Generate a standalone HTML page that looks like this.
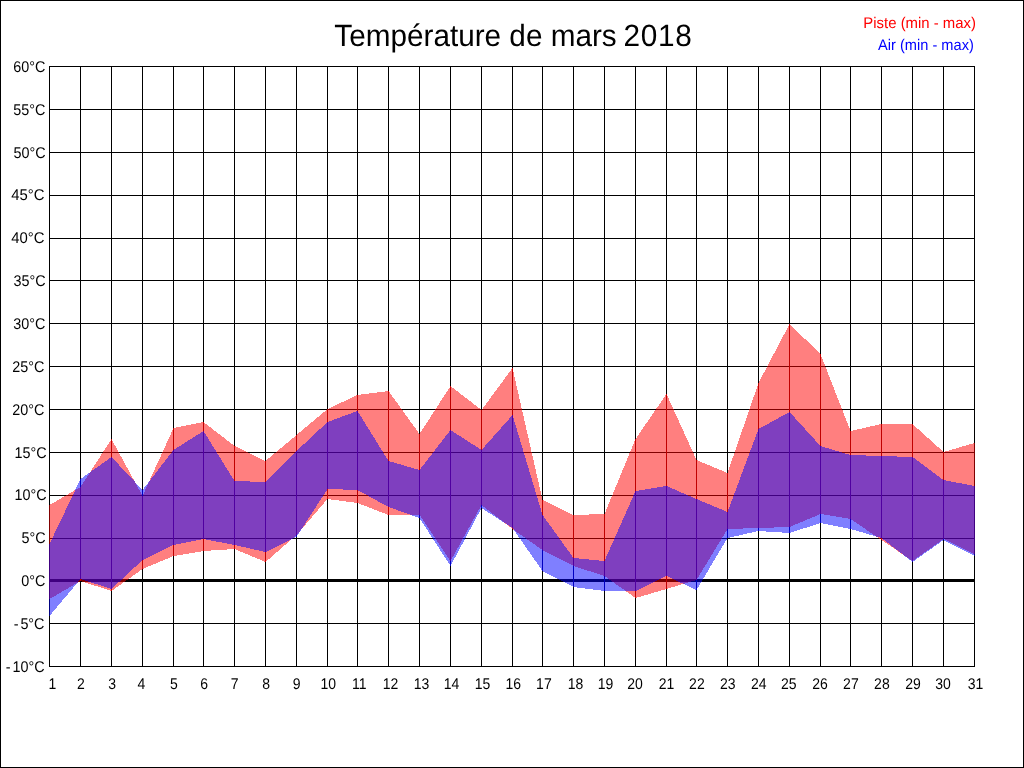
<!DOCTYPE html>
<html><head><meta charset="utf-8"><title>Température de mars 2018</title>
<style>
html,body{margin:0;padding:0;background:#fff;}
body{width:1024px;height:768px;overflow:hidden;position:relative;font-family:"Liberation Sans",sans-serif;}
svg{position:absolute;left:0;top:0;display:block;}
text{font-family:"Liberation Sans",sans-serif;}
.r{fill:#f00;fill-opacity:.5}
.b{fill:#00f;fill-opacity:.5}
</style></head><body>
<svg width="1024" height="768" viewBox="0 0 1024 768">
<rect x="0" y="0" width="1024" height="768" fill="#fff"/>
<rect x="0.5" y="0.5" width="1023" height="767" fill="none" stroke="#000" stroke-width="1" shape-rendering="crispEdges"/>

<g fill="#000" shape-rendering="crispEdges">
<rect x="49" y="66" width="1" height="601"/>
<rect x="80" y="66" width="1" height="601"/>
<rect x="111" y="66" width="1" height="601"/>
<rect x="142" y="66" width="1" height="601"/>
<rect x="173" y="66" width="1" height="601"/>
<rect x="203" y="66" width="1" height="601"/>
<rect x="234" y="66" width="1" height="601"/>
<rect x="265" y="66" width="1" height="601"/>
<rect x="296" y="66" width="1" height="601"/>
<rect x="327" y="66" width="1" height="601"/>
<rect x="357" y="66" width="1" height="601"/>
<rect x="388" y="66" width="1" height="601"/>
<rect x="419" y="66" width="1" height="601"/>
<rect x="450" y="66" width="1" height="601"/>
<rect x="481" y="66" width="1" height="601"/>
<rect x="512" y="66" width="1" height="601"/>
<rect x="542" y="66" width="1" height="601"/>
<rect x="573" y="66" width="1" height="601"/>
<rect x="604" y="66" width="1" height="601"/>
<rect x="635" y="66" width="1" height="601"/>
<rect x="666" y="66" width="1" height="601"/>
<rect x="696" y="66" width="1" height="601"/>
<rect x="727" y="66" width="1" height="601"/>
<rect x="758" y="66" width="1" height="601"/>
<rect x="789" y="66" width="1" height="601"/>
<rect x="820" y="66" width="1" height="601"/>
<rect x="850" y="66" width="1" height="601"/>
<rect x="881" y="66" width="1" height="601"/>
<rect x="912" y="66" width="1" height="601"/>
<rect x="943" y="66" width="1" height="601"/>
<rect x="974" y="66" width="1" height="601"/>
<rect x="49" y="66" width="926" height="1"/>
<rect x="49" y="109" width="926" height="1"/>
<rect x="49" y="152" width="926" height="1"/>
<rect x="49" y="195" width="926" height="1"/>
<rect x="49" y="238" width="926" height="1"/>
<rect x="49" y="280" width="926" height="1"/>
<rect x="49" y="323" width="926" height="1"/>
<rect x="49" y="366" width="926" height="1"/>
<rect x="49" y="409" width="926" height="1"/>
<rect x="49" y="452" width="926" height="1"/>
<rect x="49" y="495" width="926" height="1"/>
<rect x="49" y="538" width="926" height="1"/>
<rect x="49" y="580" width="926" height="1"/>
<rect x="49" y="623" width="926" height="1"/>
<rect x="49" y="666" width="926" height="1"/>
<rect x="49" y="579" width="926" height="3"/>
</g>
<g shape-rendering="crispEdges">
<polygon class="r" points="49,505 49.5,505 80.5,487 81,487 81,581 80.5,581 49.5,599 49,599"/>
<polygon class="b" points="49,544 49.5,544 80.5,479 81,479 81,579 80.5,579 49.5,616 49,616"/>
<polygon class="r" points="80,487 80.5,487 111.5,439 112,439 112,591 111.5,591 80.5,581 80,581"/>
<polygon class="b" points="80,479 80.5,479 111.5,457 112,457 112,589 111.5,589 80.5,579 80,579"/>
<polygon class="r" points="111,439 111.5,439 142.5,496 143,496 143,569 142.5,569 111.5,591 111,591"/>
<polygon class="b" points="111,457 111.5,457 142.5,490 143,490 143,560 142.5,560 111.5,589 111,589"/>
<polygon class="r" points="142,496 142.5,496 173.5,428 174,428 174,556 173.5,556 142.5,569 142,569"/>
<polygon class="b" points="142,490 142.5,490 173.5,450 174,450 174,545 173.5,545 142.5,560 142,560"/>
<polygon class="r" points="173,428 173.5,428 203.5,422 204,422 204,551 203.5,551 173.5,556 173,556"/>
<polygon class="b" points="173,450 173.5,450 203.5,431 204,431 204,539 203.5,539 173.5,545 173,545"/>
<polygon class="r" points="203,422 203.5,422 234.5,446 235,446 235,549 234.5,549 203.5,551 203,551"/>
<polygon class="b" points="203,431 203.5,431 234.5,481 235,481 235,545 234.5,545 203.5,539 203,539"/>
<polygon class="r" points="234,446 234.5,446 265.5,461 266,461 266,562 265.5,562 234.5,549 234,549"/>
<polygon class="b" points="234,481 234.5,481 265.5,482 266,482 266,552 265.5,552 234.5,545 234,545"/>
<polygon class="r" points="265,461 265.5,461 296.5,435 297,435 297,535 296.5,535 265.5,562 265,562"/>
<polygon class="b" points="265,482 265.5,482 296.5,451 297,451 297,537 296.5,537 265.5,552 265,552"/>
<polygon class="r" points="296,435 296.5,435 327.5,409 328,409 328,499 327.5,499 296.5,535 296,535"/>
<polygon class="b" points="296,451 296.5,451 327.5,422 328,422 328,489 327.5,489 296.5,537 296,537"/>
<polygon class="r" points="327,409 327.5,409 357.5,395 358,395 358,503 357.5,503 327.5,499 327,499"/>
<polygon class="b" points="327,422 327.5,422 357.5,411 358,411 358,490 357.5,490 327.5,489 327,489"/>
<polygon class="r" points="357,395 357.5,395 388.5,391 389,391 389,515 388.5,515 357.5,503 357,503"/>
<polygon class="b" points="357,411 357.5,411 388.5,461 389,461 389,507 388.5,507 357.5,490 357,490"/>
<polygon class="r" points="388,391 388.5,391 419.5,434 420,434 420,515 419.5,515 388.5,515 388,515"/>
<polygon class="b" points="388,461 388.5,461 419.5,470 420,470 420,518 419.5,518 388.5,507 388,507"/>
<polygon class="r" points="419,434 419.5,434 450.5,386 451,386 451,561 450.5,561 419.5,515 419,515"/>
<polygon class="b" points="419,470 419.5,470 450.5,430 451,430 451,566 450.5,566 419.5,518 419,518"/>
<polygon class="r" points="450,386 450.5,386 481.5,410 482,410 482,505 481.5,505 450.5,561 450,561"/>
<polygon class="b" points="450,430 450.5,430 481.5,450 482,450 482,508 481.5,508 450.5,566 450,566"/>
<polygon class="r" points="481,410 481.5,410 512.5,368 513,368 513,529 512.5,529 481.5,505 481,505"/>
<polygon class="b" points="481,450 481.5,450 512.5,415 513,415 513,528 512.5,528 481.5,508 481,508"/>
<polygon class="r" points="512,368 512.5,368 542.5,500 543,500 543,550 542.5,550 512.5,529 512,529"/>
<polygon class="b" points="512,415 512.5,415 542.5,515 543,515 543,571 542.5,571 512.5,528 512,528"/>
<polygon class="r" points="542,500 542.5,500 573.5,515 574,515 574,566 573.5,566 542.5,550 542,550"/>
<polygon class="b" points="542,515 542.5,515 573.5,558 574,558 574,587 573.5,587 542.5,571 542,571"/>
<polygon class="r" points="573,515 573.5,515 604.5,514 605,514 605,576 604.5,576 573.5,566 573,566"/>
<polygon class="b" points="573,558 573.5,558 604.5,561 605,561 605,591 604.5,591 573.5,587 573,587"/>
<polygon class="r" points="604,514 604.5,514 635.5,439 636,439 636,598 635.5,598 604.5,576 604,576"/>
<polygon class="b" points="604,561 604.5,561 635.5,491 636,491 636,591 635.5,591 604.5,591 604,591"/>
<polygon class="r" points="635,439 635.5,439 666.5,394 667,394 667,589 666.5,589 635.5,598 635,598"/>
<polygon class="b" points="635,491 635.5,491 666.5,486 667,486 667,576 666.5,576 635.5,591 635,591"/>
<polygon class="r" points="666,394 666.5,394 696.5,460 697,460 697,580 696.5,580 666.5,589 666,589"/>
<polygon class="b" points="666,486 666.5,486 696.5,499 697,499 697,590 696.5,590 666.5,576 666,576"/>
<polygon class="r" points="696,460 696.5,460 727.5,473 728,473 728,529 727.5,529 696.5,580 696,580"/>
<polygon class="b" points="696,499 696.5,499 727.5,512 728,512 728,538 727.5,538 696.5,590 696,590"/>
<polygon class="r" points="727,473 727.5,473 758.5,383 759,383 759,528 758.5,528 727.5,529 727,529"/>
<polygon class="b" points="727,512 727.5,512 758.5,429 759,429 759,531 758.5,531 727.5,538 727,538"/>
<polygon class="r" points="758,383 758.5,383 789.5,324 790,324 790,527 789.5,527 758.5,528 758,528"/>
<polygon class="b" points="758,429 758.5,429 789.5,412 790,412 790,533 789.5,533 758.5,531 758,531"/>
<polygon class="r" points="789,324 789.5,324 820.5,354 821,354 821,514 820.5,514 789.5,527 789,527"/>
<polygon class="b" points="789,412 789.5,412 820.5,446 821,446 821,523 820.5,523 789.5,533 789,533"/>
<polygon class="r" points="820,354 820.5,354 850.5,431 851,431 851,519 850.5,519 820.5,514 820,514"/>
<polygon class="b" points="820,446 820.5,446 850.5,455 851,455 851,529 850.5,529 820.5,523 820,523"/>
<polygon class="r" points="850,431 850.5,431 881.5,424 882,424 882,540 881.5,540 850.5,519 850,519"/>
<polygon class="b" points="850,455 850.5,455 881.5,456 882,456 882,538 881.5,538 850.5,529 850,529"/>
<polygon class="r" points="881,424 881.5,424 912.5,424 913,424 913,561 912.5,561 881.5,540 881,540"/>
<polygon class="b" points="881,456 881.5,456 912.5,457 913,457 913,562 912.5,562 881.5,538 881,538"/>
<polygon class="r" points="912,424 912.5,424 943.5,452 944,452 944,539 943.5,539 912.5,561 912,561"/>
<polygon class="b" points="912,457 912.5,457 943.5,480 944,480 944,540 943.5,540 912.5,562 912,562"/>
<polygon class="r" points="943,452 943.5,452 974.5,443 975,443 975,554 974.5,554 943.5,539 943,539"/>
<polygon class="b" points="943,480 943.5,480 974.5,486 975,486 975,556 974.5,556 943.5,540 943,540"/>
</g>
<g opacity="0.999" text-rendering="geometricPrecision">
<text transform="translate(334.3,46) scale(0.9905,1.025)" font-size="30" text-anchor="start" fill="#000">Température de mars</text>
<text transform="translate(623.6,46) scale(0.9935,1.025)" font-size="30" text-anchor="start" fill="#000" letter-spacing="0.62">2018</text>
<text transform="translate(976.0,28) scale(1.017,1.05)" font-size="14.67" text-anchor="end" fill="#f00">Piste (min - max)</text>
<text transform="translate(973.8,50) scale(0.996,1.05)" font-size="14.67" text-anchor="end" fill="#00f">Air (min - max)</text>
<text transform="translate(45.3,72) scale(0.98,1.06)" font-size="14.67" text-anchor="end" fill="#000">60°C</text>
<text transform="translate(45.3,115) scale(0.98,1.06)" font-size="14.67" text-anchor="end" fill="#000">55°C</text>
<text transform="translate(45.6,158) scale(0.98,1.06)" font-size="14.67" text-anchor="end" fill="#000">50°C</text>
<text transform="translate(44.5,200) scale(1.015,1.06)" font-size="14.67" text-anchor="end" fill="#000">45°C</text>
<text transform="translate(44.5,243) scale(1.015,1.06)" font-size="14.67" text-anchor="end" fill="#000">40°C</text>
<text transform="translate(45.6,286) scale(0.98,1.06)" font-size="14.67" text-anchor="end" fill="#000">35°C</text>
<text transform="translate(45.3,329) scale(0.98,1.06)" font-size="14.67" text-anchor="end" fill="#000">30°C</text>
<text transform="translate(44.4,372) scale(0.98,1.06)" font-size="14.67" text-anchor="end" fill="#000">25°C</text>
<text transform="translate(44.4,415) scale(0.98,1.06)" font-size="14.67" text-anchor="end" fill="#000">20°C</text>
<text transform="translate(46.5,458) scale(0.98,1.06)" font-size="14.67" text-anchor="end" fill="#000">15°C</text>
<text transform="translate(46.5,500) scale(0.98,1.06)" font-size="14.67" text-anchor="end" fill="#000">10°C</text>
<text transform="translate(45.6,543) scale(0.98,1.06)" font-size="14.67" text-anchor="end" fill="#000">5°C</text>
<text transform="translate(45.3,586) scale(0.98,1.06)" font-size="14.67" text-anchor="end" fill="#000">0°C</text>
<text transform="translate(44.5,629) scale(0.98,1.06)" font-size="14.67" text-anchor="end" fill="#000">-<tspan dx="1.9">5°C</tspan></text>
<text transform="translate(44.5,672) scale(0.98,1.06)" font-size="14.67" text-anchor="end" fill="#000">-<tspan dx="1.9">10°C</tspan></text>
<text transform="translate(52.41,689) scale(0.955,1.06)" font-size="14.67" text-anchor="middle" fill="#000">1</text>
<text transform="translate(80.93,689) scale(0.955,1.06)" font-size="14.67" text-anchor="middle" fill="#000">2</text>
<text transform="translate(112.09,689) scale(0.955,1.06)" font-size="14.67" text-anchor="middle" fill="#000">3</text>
<text transform="translate(141.27,689) scale(0.955,1.06)" font-size="14.67" text-anchor="middle" fill="#000">4</text>
<text transform="translate(173.96,689) scale(0.955,1.06)" font-size="14.67" text-anchor="middle" fill="#000">5</text>
<text transform="translate(204.16,689) scale(0.955,1.06)" font-size="14.67" text-anchor="middle" fill="#000">6</text>
<text transform="translate(234.75,689) scale(0.955,1.06)" font-size="14.67" text-anchor="middle" fill="#000">7</text>
<text transform="translate(266.03,689) scale(0.955,1.06)" font-size="14.67" text-anchor="middle" fill="#000">8</text>
<text transform="translate(296.69,689) scale(0.955,1.06)" font-size="14.67" text-anchor="middle" fill="#000">9</text>
<text transform="translate(328.28,689) scale(0.955,1.06)" font-size="14.67" text-anchor="middle" fill="#000">10</text>
<text transform="translate(359.27,689) scale(0.955,1.06)" font-size="14.67" text-anchor="middle" fill="#000">11</text>
<text transform="translate(390.56,689) scale(0.955,1.06)" font-size="14.67" text-anchor="middle" fill="#000">12</text>
<text transform="translate(421.56,689) scale(0.955,1.06)" font-size="14.67" text-anchor="middle" fill="#000">13</text>
<text transform="translate(451.56,689) scale(0.955,1.06)" font-size="14.67" text-anchor="middle" fill="#000">14</text>
<text transform="translate(482.5,689) scale(0.955,1.06)" font-size="14.67" text-anchor="middle" fill="#000">15</text>
<text transform="translate(513.28,689) scale(0.955,1.06)" font-size="14.67" text-anchor="middle" fill="#000">16</text>
<text transform="translate(543.88,689) scale(0.955,1.06)" font-size="14.67" text-anchor="middle" fill="#000">17</text>
<text transform="translate(575.5,689) scale(0.955,1.06)" font-size="14.67" text-anchor="middle" fill="#000">18</text>
<text transform="translate(605.56,689) scale(0.955,1.06)" font-size="14.67" text-anchor="middle" fill="#000">19</text>
<text transform="translate(635.0,689) scale(0.955,1.06)" font-size="14.67" text-anchor="middle" fill="#000">20</text>
<text transform="translate(666.52,689) scale(0.955,1.06)" font-size="14.67" text-anchor="middle" fill="#000">21</text>
<text transform="translate(696.9,689) scale(0.955,1.06)" font-size="14.67" text-anchor="middle" fill="#000">22</text>
<text transform="translate(727.85,689) scale(0.955,1.06)" font-size="14.67" text-anchor="middle" fill="#000">23</text>
<text transform="translate(758.85,689) scale(0.955,1.06)" font-size="14.67" text-anchor="middle" fill="#000">24</text>
<text transform="translate(788.84,689) scale(0.955,1.06)" font-size="14.67" text-anchor="middle" fill="#000">25</text>
<text transform="translate(820.0,689) scale(0.955,1.06)" font-size="14.67" text-anchor="middle" fill="#000">26</text>
<text transform="translate(850.9,689) scale(0.955,1.06)" font-size="14.67" text-anchor="middle" fill="#000">27</text>
<text transform="translate(881.91,689) scale(0.955,1.06)" font-size="14.67" text-anchor="middle" fill="#000">28</text>
<text transform="translate(913.0,689) scale(0.955,1.06)" font-size="14.67" text-anchor="middle" fill="#000">29</text>
<text transform="translate(943.0,689) scale(0.955,1.06)" font-size="14.67" text-anchor="middle" fill="#000">30</text>
<text transform="translate(975.5,689) scale(0.955,1.06)" font-size="14.67" text-anchor="middle" fill="#000">31</text>
</g>
</svg></body></html>
